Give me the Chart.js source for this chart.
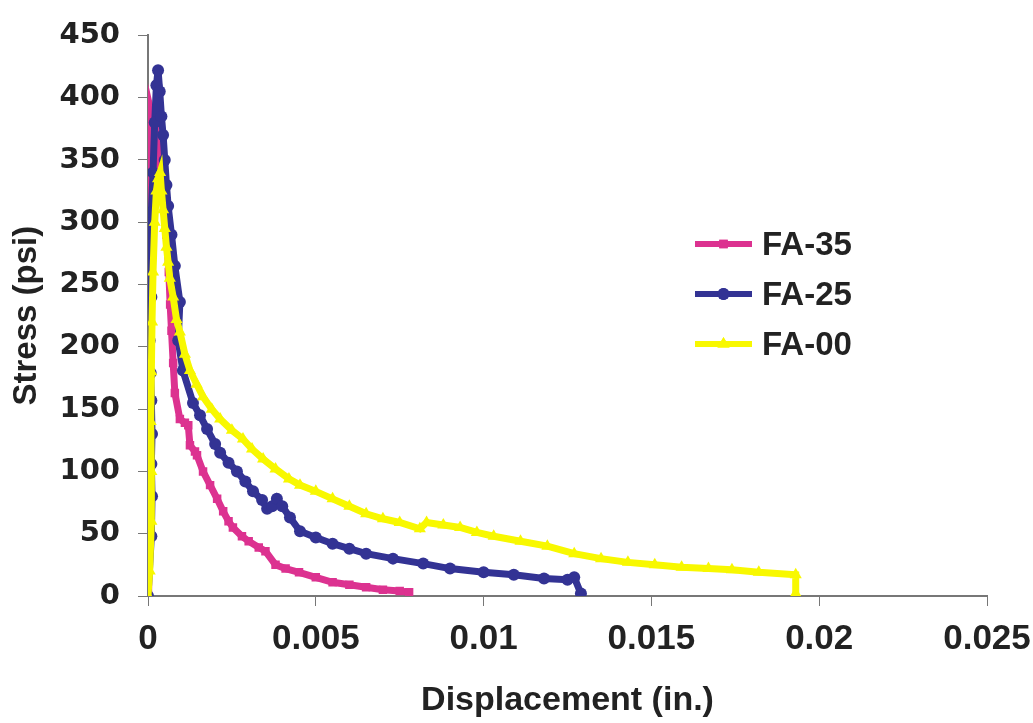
<!DOCTYPE html>
<html>
<head>
<meta charset="utf-8">
<script src="https://cdn.jsdelivr.net/npm/chart.js@4.4.1/dist/chart.umd.min.js"></script>
<style>
  html, body { margin: 0; padding: 0; background: #fff; }
  #wrap { width: 1033px; height: 723px; position: relative; }
</style>
</head>
<body>
<div id="wrap"><canvas id="stress-chart"></canvas></div>
<script>
// Stress vs displacement
const xTicks = [0, 0.005, 0.01, 0.015, 0.02, 0.025];
const yTicks = [0, 50, 100, 150, 200, 250, 300, 350, 400, 450];

// FA-35
const dispFA35 = [0, 0.00002, 0.00003, 0.00004, 0.00005, 0.00008, 0.0001, 0.0002, 0.0003, 0.00036, 0.00045, 0.00055, 0.00062, 0.00066, 0.0007, 0.00075, 0.0008, 0.00095, 0.0011, 0.0012, 0.00125, 0.0014, 0.00146, 0.00164, 0.00185, 0.00206, 0.00224, 0.0024, 0.00253, 0.0028, 0.003, 0.0033, 0.0035, 0.0038, 0.0041, 0.0045, 0.005, 0.0055, 0.006, 0.0065, 0.007, 0.0075, 0.00778];
const stressFA35 = [0, 40, 100, 160, 220, 300, 387, 375, 366, 347, 320, 290, 260, 234, 213, 187, 163, 142, 139, 137, 121, 116, 113, 100, 89, 78, 68, 60, 55, 48, 44, 39, 36, 25, 22, 19, 15, 11, 9, 7, 5, 4, 3];

// FA-25
const dispFA25 = [0, 0.0001, 0.00012, 0.0001, 0.00012, 0.0001, 0.00008, 0.00005, 0.0001, 0.00008, 0.0001, 0.00015, 0.0002, 0.00025, 0.0003, 0.00035, 0.0004, 0.00045, 0.0005, 0.00055, 0.0006, 0.0007, 0.0008, 0.00095, 0.0009, 0.00104, 0.00134, 0.00155, 0.00176, 0.002, 0.00215, 0.0024, 0.00265, 0.0029, 0.00313, 0.0034, 0.00355, 0.0037, 0.00384, 0.004, 0.00423, 0.00453, 0.005, 0.0055, 0.006, 0.0065, 0.0073, 0.0082, 0.009, 0.01, 0.0109, 0.0118, 0.0125, 0.0127, 0.0129];
const stressFA25 = [0, 48, 80, 106, 130, 157, 179, 205, 240, 282, 308, 340, 380, 410, 422, 405, 385, 370, 350, 330, 313, 290, 265, 236, 205, 181, 155, 145, 134, 122, 115, 107, 100, 92, 84, 77, 70, 72, 78, 72, 63, 52, 47, 42, 38, 34, 30, 26, 22, 19, 17, 14, 13, 15, 2];

// FA-00
const dispFA00 = [0, 0.00005, 0.0001, 0.0001, 0.00008, 0.0001, 0.00012, 0.00015, 0.0002, 0.00025, 0.0003, 0.00036, 0.0004, 0.00045, 0.0005, 0.00055, 0.0006, 0.00065, 0.00075, 0.00085, 0.00095, 0.0011, 0.00125, 0.00145, 0.00164, 0.0019, 0.00215, 0.0025, 0.00283, 0.0031, 0.00343, 0.0038, 0.0042, 0.00453, 0.005, 0.0055, 0.006, 0.0065, 0.007, 0.0075, 0.0081, 0.0083, 0.0088, 0.0093, 0.0098, 0.0103, 0.0111, 0.0119, 0.0127, 0.0135, 0.0143, 0.0151, 0.0159, 0.0167, 0.0174, 0.0182, 0.0193, 0.0193];
const stressFA00 = [0, 20, 60, 100, 140, 180, 220, 260, 300, 325, 335, 340, 325, 310, 295, 280, 268, 255, 240, 222, 212, 194, 181, 170, 160, 150, 142, 133, 126, 118, 110, 102, 94, 89, 84, 78, 72, 66, 62, 59, 54, 59, 57, 55, 51, 48, 44, 40, 34, 30, 27, 25, 23, 22, 21, 19, 17, 2];

const ARIAL = "'Liberation Sans', Arial, sans-serif";
const WIDE = "'DejaVu Sans', 'Liberation Sans', Arial, sans-serif";
const TEXT_COLOR = '#222';
const AXIS_COLOR = '#777';

function toPoints(xs, ys) {
    return xs.map((x, i) => ({ x: x, y: ys[i] }));
}

function makeSeries(label, xs, ys, color, marker, order) {
    return {
        label: label,
        data: toPoints(xs, ys),
        borderColor: color,
        backgroundColor: color,
        borderWidth: 7,
        pointStyle: marker,
        pointRadius: marker === 'triangle' ? 7 : 6,
        pointBorderWidth: 0,
        pointBackgroundColor: color,
        tension: 0,
        order: order
    };
}

// legend drawn inside the plot, like the Excel original
const insideLegend = {
    id: 'insideLegend',
    afterDraw(chart) {
        const ctx = chart.ctx;
        const rows = [244, 294, 344];
        const x0 = 695, x1 = 752;
        ctx.save();
        chart.data.datasets.forEach((ds, i) => {
            const y = rows[i];
            ctx.strokeStyle = ds.borderColor;
            ctx.lineWidth = 6;
            ctx.beginPath();
            ctx.moveTo(x0, y);
            ctx.lineTo(x1, y);
            ctx.stroke();
            ctx.fillStyle = ds.borderColor;
            Chart.helpers.drawPoint(ctx, {
                pointStyle: ds.pointStyle,
                radius: ds.pointRadius,
                borderWidth: 0,
                rotation: 0
            }, (x0 + x1) / 2, y);
            ctx.fill();
            ctx.fillStyle = TEXT_COLOR;
            ctx.font = 'bold 33px ' + ARIAL;
            ctx.textAlign = 'left';
            ctx.textBaseline = 'middle';
            ctx.fillText(ds.label, 762, y + 2);
        });
        ctx.restore();
    }
};

const ctx = document.getElementById('stress-chart');

new Chart(ctx, {
    type: 'line',
    data: {
        datasets: [
            makeSeries('FA-35', dispFA35, stressFA35, '#dc3290', 'rect', 2),
            makeSeries('FA-25', dispFA25, stressFA25, '#333394', 'circle', 1),
            makeSeries('FA-00', dispFA00, stressFA00, '#f8f800', 'triangle', 0)
        ]
    },
    options: {
        responsive: true,
        maintainAspectRatio: false,
        animation: false,
        layout: {
            padding: { left: 0, right: 46, top: 27, bottom: 0 }
        },
        plugins: {
            legend: { display: false },
            tooltip: { enabled: false }
        },
        scales: {
            x: {
                type: 'linear',
                min: xTicks[0],
                max: xTicks[xTicks.length - 1],
                afterBuildTicks: (scale) => {
                    scale.ticks = xTicks.map(v => ({ value: v }));
                },
                afterFit: (scale) => {
                    scale.height = 127;
                    scale.paddingRight = 0;
                    scale.paddingLeft = 0;
                },
                ticks: {
                    color: TEXT_COLOR,
                    padding: 12,
                    maxRotation: 0,
                    font: { family: ARIAL, size: 35, weight: 'bold' },
                    callback: (value) => String(+value.toFixed(3))
                },
                grid: {
                    drawOnChartArea: false,
                    color: AXIS_COLOR,
                    tickLength: 10
                },
                border: { color: AXIS_COLOR, width: 2 },
                title: {
                    display: true,
                    text: 'Displacement (in.)',
                    color: TEXT_COLOR,
                    font: { family: ARIAL, size: 34, weight: 'bold' },
                    padding: { top: 0, bottom: 2 }
                }
            },
            y: {
                min: yTicks[0],
                max: yTicks[yTicks.length - 1],
                afterBuildTicks: (scale) => {
                    scale.ticks = yTicks.map(v => ({ value: v }));
                },
                afterFit: (scale) => { scale.width = 148; },
                ticks: {
                    color: TEXT_COLOR,
                    padding: 18,
                    font: { family: WIDE, size: 29, weight: 'bold' }
                },
                grid: {
                    drawOnChartArea: false,
                    color: AXIS_COLOR,
                    tickLength: 10
                },
                border: { color: AXIS_COLOR, width: 2 },
                title: {
                    display: true,
                    text: 'Stress (psi)',
                    color: TEXT_COLOR,
                    font: { family: ARIAL, size: 33, weight: 'bold' },
                    padding: { top: 7, bottom: 0 }
                }
            }
        }
    },
    plugins: [insideLegend]
});
</script>
</body>
</html>
